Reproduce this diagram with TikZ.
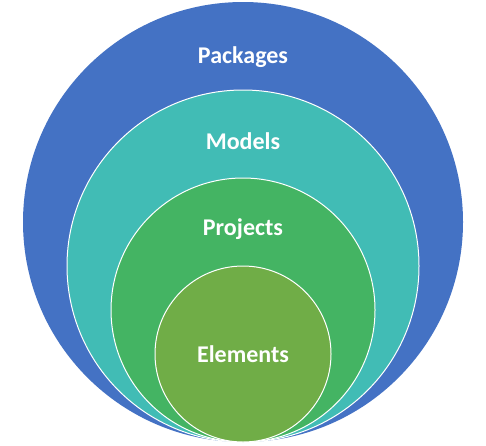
\documentclass[tikz,border=0pt]{standalone}
\usepackage{fontspec}
\setmainfont{Carlito}
\definecolor{cPack}{HTML}{4472C4}
\definecolor{cMod}{HTML}{41BCB5}
\definecolor{cProj}{HTML}{44B463}
\definecolor{cElem}{HTML}{70AD47}
\begin{document}
\begin{tikzpicture}[x=1pt,y=-1pt,
  ring/.style={circle,draw=white,line width=1pt,inner sep=0pt},
  lbl/.style={text=white,font=\bfseries\fontsize{24}{28}\selectfont,inner sep=0pt}]
\useasboundingbox (0,0) rectangle (486,445);
\node[ring,fill=cPack,draw=none,minimum size=440pt] (pack) at (243,222) {};
\node[ring,fill=cMod,minimum size=352pt] (mod) at (243,266) {};
\node[ring,fill=cProj,minimum size=264pt] (proj) at (243,310) {};
\node[ring,fill=cElem,minimum size=176pt] (elem) at (243,354) {};
\node[lbl] (tpack) at (243,57) {Packages};
\node[lbl] (tmod) at (243,141) {Models};
\node[lbl] (tproj) at (243,229) {Projects};
\node[lbl] (telem) at (243,354) {Elements};
\end{tikzpicture}
\end{document}
